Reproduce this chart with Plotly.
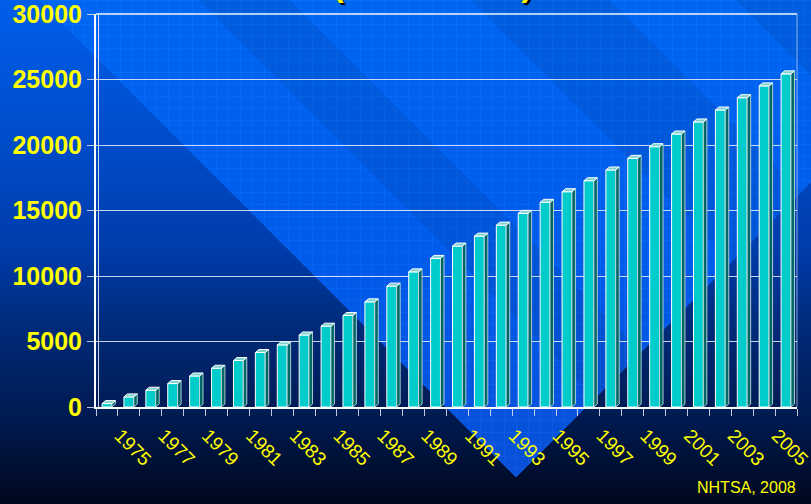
import base64
import struct
import zlib

import numpy as np
import plotly.graph_objects as go

# Cumulative totals by year
years = list(range(1975, 2007))
values = [260, 770, 1280, 1790, 2370, 2960, 3550, 4160, 4740, 5500,
          6170, 6990, 8030, 9230, 10320, 11350, 12290, 13050, 13890, 14790,
          15630, 16440, 17280, 18100, 18990, 19880, 20850, 21770, 22680, 23620,
          24520, 25440]
label_years = [y for y in years if y % 2 == 1]
y_ticks = [0, 5000, 10000, 15000, 20000, 25000, 30000]
source_note = "NHTSA, 2008"
subtitle = "(1975 – 2006)"

W, H = 811, 504
ML, MR, MT, MB = 96, 14, 14, 97
PW, PH = W - ML - MR, H - MT - MB
Y_MAX = 30000


def png_data_uri(rgb):
    h, w, _ = rgb.shape
    raw = b"".join(b"\x00" + rgb[r].tobytes() for r in range(h))

    def chunk(tag, data):
        return (struct.pack(">I", len(data)) + tag + data
                + struct.pack(">I", zlib.crc32(tag + data) & 0xFFFFFFFF))

    png = (b"\x89PNG\r\n\x1a\n"
           + chunk(b"IHDR", struct.pack(">IIBBBBB", w, h, 8, 2, 0, 0, 0))
           + chunk(b"IDAT", zlib.compress(raw, 9))
           + chunk(b"IEND", b""))
    return "data:image/png;base64," + base64.b64encode(png).decode()


def slide_background():
    yy, xx = np.mgrid[0:H, 0:W].astype(float)
    # dark vertical gradient
    ky = [0, 150, 250, 330, 410, 504]
    kr = [0, 0, 0, 0, 0, 0]
    kg = [95, 75, 60, 42, 28, 8]
    kb = [235, 200, 170, 120, 85, 30]
    base = np.stack([np.interp(yy, ky, k) for k in (kr, kg, kb)], axis=-1)

    # lighter wedge with a fine grid texture
    ly = [0, 250, 480]
    light = np.stack([np.interp(yy, ly, k) for k in ([0, 0, 10], [102, 92, 80], [242, 235, 215])], axis=-1)
    grid = ((xx % 12) < 1) | ((yy % 12) < 1)
    light = light + grid[..., None] * np.array([5, 8, 10])
    d = xx - yy
    s = xx + yy
    # darker diagonal bands inside the wedge
    band = np.zeros_like(xx)
    for lo, hi in [(198, 290), (470, 610), (735, 880)]:
        band = np.maximum(band, np.clip(np.minimum(d - lo, hi - d), 0, 1))
    light = light * (1 - 0.08 * band[..., None])

    wedge = np.clip(d - 38, 0, 1) * np.clip(993 - s, 0, 1)
    img = base * (1 - wedge[..., None]) + light * wedge[..., None]
    return np.clip(img, 0, 255).astype(np.uint8)


fig = go.Figure()

# bar geometry
bw = 0.45
dx = 3.5 / (PW / len(years))
dy = 3.0 / PH * Y_MAX

side_x, side_y, top_x, top_y = [], [], [], []
for yr, v in zip(years, values):
    xr, xl = yr + bw / 2, yr - bw / 2
    side_x += [xr, xr + dx, xr + dx, xr, xr, None]
    side_y += [0, dy, v + dy, v, 0, None]
    top_x += [xl, xl + dx, xr + dx, xr, xl, None]
    top_y += [v, v + dy, v + dy, v, v, None]

fig.add_trace(go.Bar(
    x=years, y=values, width=bw,
    marker=dict(color="#00CCCC", line=dict(color="#FFFFFF", width=1)),
    hoverinfo="x+y", showlegend=False,
))
fig.add_trace(go.Scatter(
    x=side_x, y=side_y, mode="lines", fill="toself",
    fillcolor="#006666", line=dict(color="rgba(190,215,220,0.9)", width=1),
    hoverinfo="skip", showlegend=False,
))
fig.add_trace(go.Scatter(
    x=top_x, y=top_y, mode="lines", fill="toself",
    fillcolor="#7FD0D0", line=dict(color="#FFFFFF", width=1),
    hoverinfo="skip", showlegend=False,
))

fig.update_layout(
    width=W, height=H,
    margin=dict(l=ML, r=MR, t=MT, b=MB, pad=0, autoexpand=False),
    paper_bgcolor="#000A20",
    plot_bgcolor="rgba(0,0,0,0)",
    font=dict(family="Arial, Liberation Sans, sans-serif", color="#FFFF00"),
    images=[dict(
        source=png_data_uri(slide_background()),
        xref="paper", yref="paper",
        x=-ML / PW, y=1 + MT / PH,
        sizex=W / PW, sizey=H / PH,
        xanchor="left", yanchor="top",
        sizing="stretch", layer="below",
    )],
    xaxis=dict(
        range=[years[0] - 0.5, years[-1] + 0.5],
        automargin=False,
        tickmode="array", tickvals=label_years,
        ticktext=[str(y) for y in label_years],
        ticklabeloverflow="allow",
        tickangle=45, ticks="",
        ticklabelstandoff=8, ticklabelshift=13,
        tickfont=dict(size=19, color="#FFFF00"),
        showgrid=False, zeroline=False,
        showline=True, linecolor="#FFFFFF", linewidth=2,
        minor=dict(tick0=0.5, dtick=1, ticks="outside", ticklen=7,
                   tickcolor="rgba(215,220,235,0.9)", tickwidth=1, showgrid=False),
    ),
    yaxis=dict(
        range=[0, Y_MAX * 1.0004], tickmode="array", tickvals=y_ticks,
        automargin=False,
        ticktext=[str(v) for v in y_ticks],
        ticklabeloverflow="allow",
        ticks="outside", ticklen=7, tickcolor="rgba(215,220,235,0.9)",
        tickfont=dict(size=25, color="#FFFF00", family="Arial, Liberation Sans, sans-serif", weight="bold"),
        showgrid=True, gridcolor="rgba(235,240,250,0.85)", gridwidth=1.2,
        zeroline=False,
        showline=True, linecolor="#FFFFFF", linewidth=2,
    ),
    shapes=[
        dict(type="line", xref="paper", yref="paper", x0=1, x1=1, y0=0, y1=1,
             line=dict(color="rgba(200,215,240,0.7)", width=1)),
        dict(type="line", xref="paper", yref="paper", x0=2.5 / PW, x1=2.5 / PW, y0=0, y1=1,
             line=dict(color="rgba(255,255,255,0.8)", width=1)),
        dict(type="line", xref="paper", yref="paper", x0=0, x1=1, y0=1, y1=1,
             line=dict(color="rgba(255,255,255,0.95)", width=1.5)),
    ],
    annotations=[
        dict(text=source_note, xref="paper", yref="paper",
             x=(W - 13 - ML) / PW, y=-(498 - MT - PH) / PH,
             xanchor="right", yanchor="bottom", showarrow=False,
             font=dict(size=16, color="#FFFF00")),
        dict(text=subtitle, xref="paper", yref="paper",
             x=(432 - ML) / PW, y=1 + (MT - 5) / PH,
             xanchor="center", yanchor="bottom", showarrow=False,
             font=dict(size=32, color="#FFFF00", weight="bold", shadow="2px 2px 1px #000000")),
    ],
)

fig.write_html("out.html")
